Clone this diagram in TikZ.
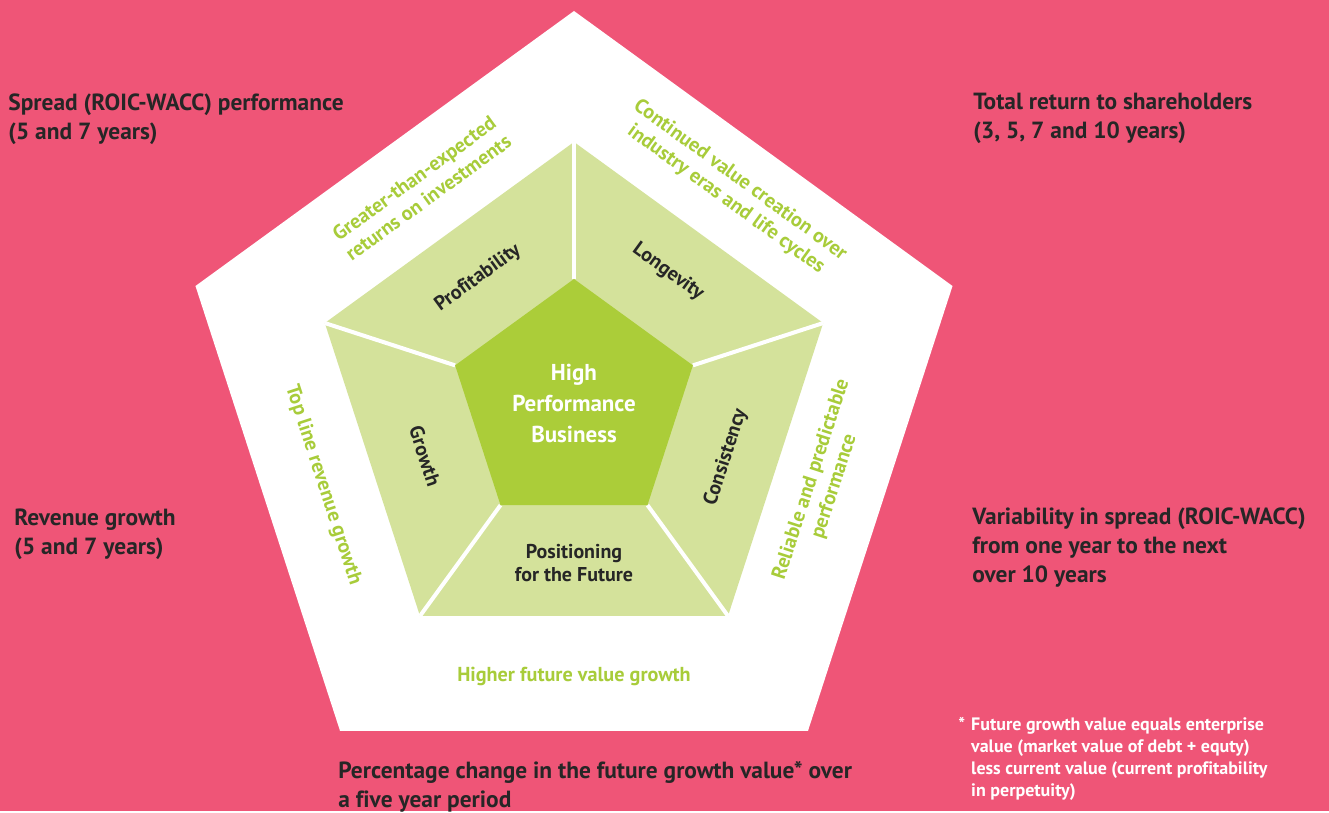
\documentclass[tikz,border=0pt]{standalone}
\usepackage{fontspec}
\setmainfont{PT Sans}[Ligatures=CommonOff]
\definecolor{pinkbg}{HTML}{EF5577}
\definecolor{lightgreen}{HTML}{D4E29B}
\definecolor{coregreen}{HTML}{ABCD39}
\definecolor{labelgreen}{HTML}{A8CC3A}
\definecolor{darktext}{HTML}{262626}
\begin{document}
\begin{tikzpicture}[x=0.5pt,y=-0.5pt]
\tikzstyle{outertext} = [anchor=north west, align=left, inner sep=0pt, text=darktext, font=\bfseries\fontsize{11.7}{14.5}\selectfont]
\tikzstyle{edgetext} = [align=center, inner sep=0pt, text=labelgreen, font=\bfseries\fontsize{10.1}{12}\selectfont]
\tikzstyle{segment} = [align=center, inner sep=0pt, text=darktext, font=\bfseries\fontsize{10}{11.5}\selectfont]
\tikzstyle{divider} = [white, line width=2pt]
\fill[pinkbg] (0,0) rectangle (1329,811);
\foreach \i in {0,...,4} {
  \coordinate (o\i) at ({574+398*cos(90+72*\i)}, {409-398*sin(90+72*\i)});
  \coordinate (m\i) at ({574+262*cos(90+72*\i)}, {404-262*sin(90+72*\i)});
  \coordinate (c\i) at ({574+125*cos(90+72*\i)}, {404-125*sin(90+72*\i)});
}
\fill[white] (o0)--(o1)--(o2)--(o3)--(o4)--cycle;
\fill[lightgreen] (m0)--(m1)--(m2)--(m3)--(m4)--cycle;
\foreach \i in {0,...,4} \draw[divider] (c\i)--(m\i);
\fill[coregreen] (c0)--(c1)--(c2)--(c3)--(c4)--cycle;
\node[align=center, text=white, font=\bfseries\fontsize{11.5}{15.5}\selectfont] (core) at (574, 403) {High\\Performance\\Business};
\node[segment, rotate=36] (profit) at (478, 278) {Profitability};
\node[segment, rotate=-36] (longev) at (668, 272) {Longevity};
\node[segment, rotate=-72] (growth) at (425, 456) {Growth};
\node[segment, rotate=72] (consist) at (726, 457) {Consistency};
\node[segment] (future) at (574, 563) {Positioning\\for the Future};
\node[edgetext, rotate=36] (returns) at (421, 188) {Greater-than-expected\\returns on investments};
\node[edgetext, rotate=-36] (eras) at (733, 190) {Continued value creation over\\industry eras and life cycles};
\node[edgetext, rotate=-72] (topline) at (323, 485) {Top line revenue growth};
\node[edgetext, rotate=72] (reliable) at (823, 483) {Reliable and predictable\\performance};
\node[edgetext] (higher) at (574, 676) {Higher future value growth};
\node[outertext] (spread) at (8, 93) {Spread (ROIC-WACC) performance\\(5 and 7 years)};
\node[outertext] (tsr) at (973, 93) {Total return to shareholders\\(3, 5, 7 and 10 years)};
\node[outertext] (revenue) at (14, 508) {Revenue growth\\(5 and 7 years)};
\node[outertext] (variab) at (972, 507) {Variability in spread (ROIC-WACC)\\from one year to the next\\over 10 years};
\node[outertext] (pctchange) at (338, 761) {Percentage change in the future growth value* over\\a five year period};
\node[anchor=north west, inner sep=0pt, text=white, font=\bfseries\fontsize{9}{11}\selectfont] (footnote) at (958, 715)
  {\begin{tabular}{@{}l@{\hspace{3pt}}l@{}}
   *&Future growth value equals enterprise\\
    &value (market value of debt + equty)\\
    &less current value (current profitability\\
    &in perpetuity)
   \end{tabular}};
\end{tikzpicture}
\end{document}
